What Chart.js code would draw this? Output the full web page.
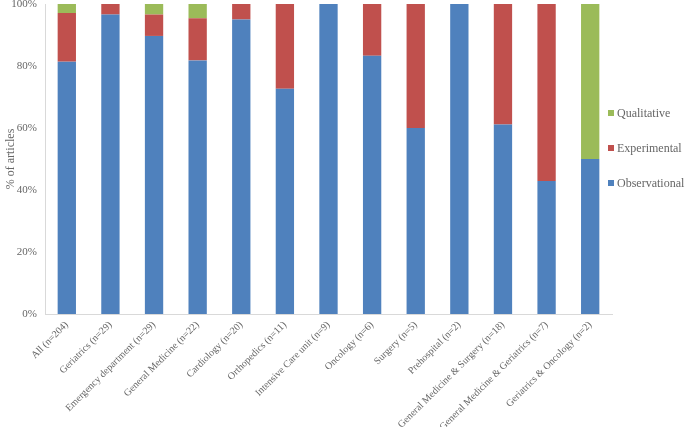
<!DOCTYPE html>
<html>
<head>
<meta charset="utf-8">
<script src="https://cdn.jsdelivr.net/npm/chart.js@4/dist/chart.umd.min.js"></script>
<style>
  html, body { margin: 0; padding: 0; background: #fff; }
  #wrap { width: 685px; height: 427px; }
</style>
</head>
<body>
<div id="wrap"><canvas id="studyChart"></canvas></div>
<script>
const categories = [
    'All (n=204)', 'Geriatrics (n=29)', 'Emergency department (n=29)', 'General Medicine (n=22)',
    'Cardiology (n=20)', 'Orthopedics (n=11)', 'Intensive Care unit (n=9)', 'Oncology (n=6)',
    'Surgery (n=5)', 'Prehospital (n=2)', 'General Medicine & Surgery (n=18)',
    'General Medicine & Geriatrics (n=7)', 'Geriatrics & Oncology (n=2)'
];
const observational = [81.4, 96.6, 89.7, 81.8, 95, 72.7, 100, 83.3, 60, 100, 61.1, 42.9, 50];
const experimental = [15.7, 3.4, 6.9, 13.6, 5, 27.3, 0, 16.7, 40, 0, 38.9, 57.1, 0];
const qualitative = [2.9, 0, 3.4, 4.6, 0, 0, 0, 0, 0, 0, 0, 0, 50];
const yTicks = [0, 20, 40, 60, 80, 100];

const textColor = '#666666';
const serif = '"Liberation Serif", "Times New Roman", serif';

// legend drawn by hand, top to bottom: last dataset first
const sideLegend = {
    id: 'sideLegend',
    afterDraw(chart) {
        const ctx = chart.ctx;
        const area = chart.chartArea;
        const sets = chart.data.datasets.slice().reverse();
        const midY = (area.top + area.bottom) / 2 - 11;
        const gap = 35;
        ctx.save();
        ctx.font = '12px ' + serif;
        ctx.textBaseline = 'middle';
        sets.forEach((ds, i) => {
            const y = midY + (i - (sets.length - 1) / 2) * gap;
            ctx.fillStyle = ds.backgroundColor;
            ctx.fillRect(area.right - 4, y - 3, 6, 6);
            ctx.fillStyle = textColor;
            ctx.fillText(ds.label, area.right + 5, y + 1);
        });
        ctx.restore();
    }
};

new Chart(document.getElementById('studyChart'), {
    type: 'bar',
    data: {
        labels: categories,
        datasets: [
            { label: 'Observational', data: observational, backgroundColor: '#4F81BD' },
            { label: 'Experimental', data: experimental, backgroundColor: '#C0504D' },
            { label: 'Qualitative', data: qualitative, backgroundColor: '#9BBB59' }
        ]
    },
    options: {
        responsive: true,
        maintainAspectRatio: false,
        animation: false,
        layout: { padding: { top: 4, right: 73, left: 4, bottom: 0 } },
        datasets: {
            bar: { categoryPercentage: 1.0, barPercentage: 0.42 }
        },
        plugins: {
            legend: { display: false },
            tooltip: { enabled: false }
        },
        scales: {
            x: {
                stacked: true,
                grid: { display: false, drawTicks: false },
                border: { color: '#d9d9d9', width: 1 },
                ticks: {
                    color: textColor,
                    font: { family: serif, size: 10 },
                    minRotation: 45,
                    maxRotation: 45,
                    padding: 5
                },
                afterFit(scale) { scale.height = 113; }
            },
            y: {
                stacked: true,
                min: 0,
                max: 100,
                grid: { display: false, drawTicks: false },
                border: { color: '#d9d9d9', width: 1 },
                afterBuildTicks(scale) {
                    scale.ticks = yTicks.map(v => ({ value: v }));
                },
                ticks: {
                    color: textColor,
                    font: { family: serif, size: 11 },
                    padding: 8,
                    callback: v => v + '%'
                },
                title: {
                    display: true,
                    text: '% of articles',
                    color: textColor,
                    font: { family: serif, size: 12 },
                    padding: { top: 0, bottom: 2 }
                },
                afterFit(scale) {
                    scale.width = 41;
                    scale.paddingTop = 0;
                    scale.paddingBottom = 0;
                }
            }
        }
    },
    plugins: [sideLegend]
});
</script>
</body>
</html>
